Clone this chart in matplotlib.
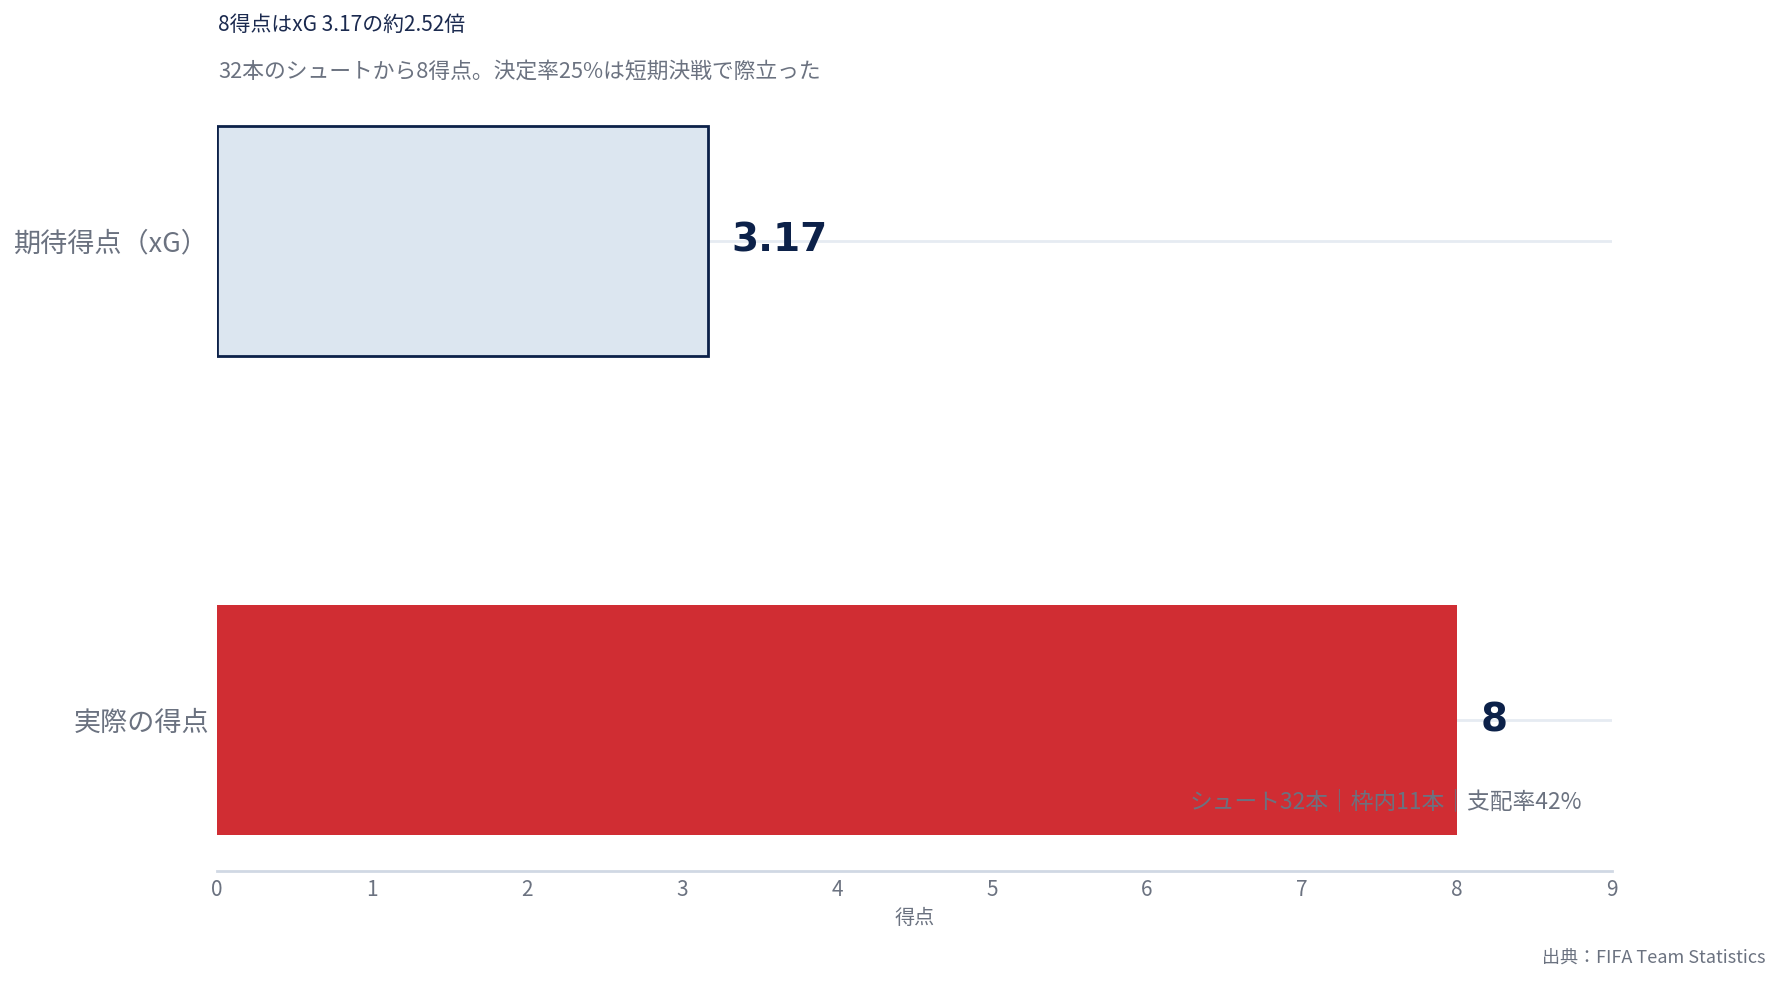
import matplotlib
matplotlib.use("Agg")
import matplotlib.pyplot as plt

plt.rcParams['font.family'] = ['Noto Sans CJK JP', 'DejaVu Sans']

categories = ["期待得点（xG）", "実際の得点"]
values = [3.17, 8]
value_labels = ["3.17", "8"]
xticks = [0, 1, 2, 3, 4, 5, 6, 7, 8, 9]

title = "8得点はxG 3.17の約2.52倍"
subtitle = "32本のシュートから8得点。決定率25%は短期決戦で際立った"
note = "シュート32本｜枠内11本｜支配率42%"
source = "出典：FIFA Team Statistics"

navy = "#0c2149"
grey = "#6b7280"

fig = plt.figure(figsize=(17.8, 9.81), dpi=100)
ax = fig.add_axes([0.1219, 0.1121, 0.7837, 0.789])

ypos = list(range(len(categories)))

# grid lines at each category, behind bars
for y in ypos:
    ax.axhline(y, color="#e6ebf2", lw=2, zorder=0)

ax.barh(ypos[0], values[0], height=0.48, color="#dce6f0", edgecolor=navy,
        linewidth=2, zorder=2)
ax.barh(ypos[1], values[1], height=0.48, color="#d02d33", zorder=2)

for y, v, lab in zip(ypos, values, value_labels):
    ax.text(v + 0.15, y, lab, ha="left", va="center", fontsize=28,
            fontweight="bold", color=navy, family="DejaVu Sans", zorder=3)

ax.text(8.81, 1.17, note, ha="right", va="center", fontsize=16.4,
        color=grey, zorder=4)

ax.set_xlim(0, 9)
ax.set_ylim(1.315, -0.3)
ax.set_yticks(ypos)
ax.set_yticklabels(categories, fontsize=19.5, color=grey)
ax.set_xticks(xticks)
ax.set_xticklabels([str(t) for t in xticks], fontsize=15, color=grey)
ax.tick_params(axis="y", length=0, pad=5.5)
ax.tick_params(axis="x", length=0, pad=6)
ax.set_xlabel("得点", fontsize=14.5, color=grey, labelpad=5)

for s in ["top", "right", "left"]:
    ax.spines[s].set_visible(False)
ax.spines["bottom"].set_color("#d0d8e4")
ax.spines["bottom"].set_linewidth(2)

fig.text(218 / 1780, 1 - 25 / 981, title, ha="left", va="center",
         fontsize=15, color="#1b2a4f")
fig.text(218 / 1780, 1 - 72 / 981, subtitle, ha="left", va="center",
         fontsize=15.7, color=grey)
fig.text(1765 / 1780, 1 - 958 / 981, source, ha="right", va="center",
         fontsize=13, color=grey)

fig.savefig("out.png", dpi=100, facecolor="white")
